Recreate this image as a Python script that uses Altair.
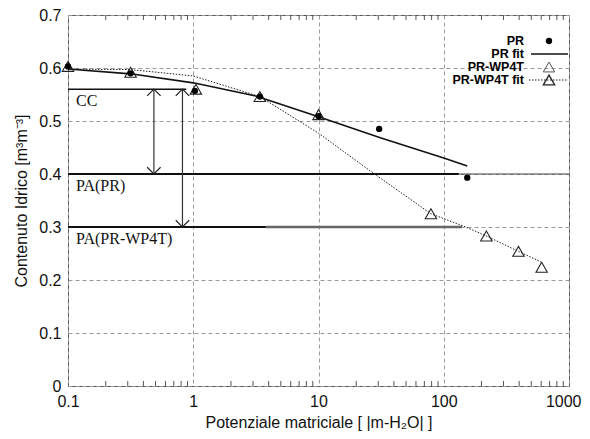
import altair as alt
import pandas as pd

# ---------------- data ----------------
pr_x = [0.1, 0.316, 1.03, 3.4, 10, 30.5, 154]
pr_y = [0.603, 0.590, 0.557, 0.546, 0.509, 0.485, 0.393]

wp_x = [0.1, 0.316, 1.05, 3.4, 10, 79, 219, 395, 605]
wp_y = [0.603, 0.592, 0.560, 0.546, 0.512, 0.325, 0.283, 0.254, 0.224]

prfit_x = [0.1, 0.316, 1, 3.16, 5.9, 10, 31.6, 100, 154]
prfit_y = [0.598, 0.589, 0.572, 0.547, 0.526, 0.508, 0.468, 0.430, 0.415]

wpfit_x = [0.1, 0.316, 1, 3.4, 10, 28, 79, 150, 219, 395, 600]
wpfit_y = [0.598, 0.597, 0.585, 0.546, 0.477, 0.400, 0.325, 0.300, 0.283, 0.254, 0.234]

# reference levels (CC, PA(PR), PA(PR-WP4T)) and their extents
level_names = ["CC", "PA(PR)", "PA(PR-WP4T)"]
level_y = [0.56, 0.40, 0.30]
level_x_end = [0.88, 132, 3.8]
level_x_end2 = [None, 1000, 140]

# arrows: x position, top, bottom
arrow_x = [0.485, 0.82]
arrow_top = [0.56, 0.56]
arrow_bottom = [0.40, 0.30]

x_ticks = [0.1, 1, 10, 100, 1000]
y_ticks = [0, 0.1, 0.2, 0.3, 0.4, 0.5, 0.6, 0.7]
minor_ticks = [k * 10 ** e for e in (-1, 0, 1, 2) for k in range(2, 10)]

legend_labels = ["PR", "PR fit", "PR-WP4T", "PR-WP4T fit"]

W, H = 501, 371

# ---------------- scales / axes ----------------
X_SCALE = alt.Scale(type="log", domain=[0.1, 1000], nice=False)
Y_SCALE = alt.Scale(domain=[0, 0.7], nice=False, zero=False)

axis_x = alt.Axis(values=x_ticks, format="~g", title="Potenziale matriciale [ |m-H\u2082O| ]",
                  grid=True, gridDash=[4, 3], gridColor="#9a9a9a", gridWidth=1,
                  ticks=False, domain=False, labelPadding=7, titlePadding=5,
                  labelFlush=False,
                  labelAlign={"condition": {"test": "datum.value >= 1000", "value": "right"},
                              "value": "center"},
                  labelOffset={"condition": {"test": "datum.value >= 1000", "value": 12},
                               "value": 0})
axis_y = alt.Axis(values=y_ticks, format="~g", title="Contenuto Idrico [m\u00b3m\u207b\u00b3]",
                  grid=True, gridDash=[4, 3], gridColor="#9a9a9a", gridWidth=1,
                  ticks=False, domain=False, labelPadding=7, titlePadding=9)


def X(f="x"):
    return alt.X(f"{f}:Q", scale=X_SCALE, axis=axis_x)


def Y(f="y"):
    return alt.Y(f"{f}:Q", scale=Y_SCALE, axis=axis_y)


layers = []

# minor ticks on log axis (bottom and top, pointing inside)
mt = pd.DataFrame({"x": minor_ticks})
layers.append(alt.Chart(mt).mark_rule(color="#555", strokeWidth=1).encode(
    x=X(), y=alt.value(H), y2=alt.value(H - 5)))
layers.append(alt.Chart(mt).mark_rule(color="#555", strokeWidth=1).encode(
    x=X(), y=alt.value(0), y2=alt.value(5)))

# horizontal reference lines
main_lines = pd.DataFrame({"x": [0.1] * 3, "x2": level_x_end, "y": level_y})
layers.append(alt.Chart(main_lines.iloc[[0]]).mark_rule(color="#111", strokeWidth=1.5).encode(
    x=X(), x2="x2:Q", y=Y()))
layers.append(alt.Chart(main_lines.iloc[[1, 2]]).mark_rule(color="#111", strokeWidth=2).encode(
    x=X(), x2="x2:Q", y=Y()))
ext = pd.DataFrame({"x": [level_x_end[1], level_x_end[2]], "x2": [level_x_end2[1], level_x_end2[2]],
                    "y": [level_y[1], level_y[2]]})
layers.append(alt.Chart(ext.iloc[[0]]).mark_rule(color="#444", strokeWidth=1).encode(
    x=X(), x2="x2:Q", y=Y()))
layers.append(alt.Chart(ext.iloc[[1]]).mark_rule(color="#666", strokeWidth=2.5).encode(
    x=X(), x2="x2:Q", y=Y()))

# arrows
arr = pd.DataFrame({"x": arrow_x, "y": arrow_top, "y2": arrow_bottom})
layers.append(alt.Chart(arr).mark_rule(color="#333", strokeWidth=1.2).encode(
    x=X(), y=Y(), y2="y2:Q"))
heads_up = pd.DataFrame({"x": arrow_x, "y": arrow_top})
heads_dn = pd.DataFrame({"x": arrow_x, "y": arrow_bottom})
layers.append(alt.Chart(heads_up).mark_point(shape="M-1,1L0,0L1,1", filled=False, size=180,
                                             color="#222", strokeWidth=1.2, opacity=1).encode(x=X(), y=Y()))
layers.append(alt.Chart(heads_dn).mark_point(shape="M-1,-1L0,0L1,-1", filled=False, size=180,
                                             color="#222", strokeWidth=1.2, opacity=1).encode(x=X(), y=Y()))

# annotations
ann = pd.DataFrame({"x": [0.1] * 3, "y": level_y, "t": level_names})
layers.append(alt.Chart(ann).mark_text(align="left", baseline="top", dx=8, dy=4,
                                       font="Liberation Serif", fontSize=16, color="#111").encode(
    x=X(), y=Y(), text="t:N"))

# fit lines
layers.append(alt.Chart(pd.DataFrame({"x": prfit_x, "y": prfit_y})).mark_line(
    color="#111", strokeWidth=1.6).encode(x=X(), y=Y()))
layers.append(alt.Chart(pd.DataFrame({"x": wpfit_x, "y": wpfit_y})).mark_line(
    color="#222", strokeWidth=1, strokeDash=[1.5, 1.5]).encode(x=X(), y=Y()))

# points
layers.append(alt.Chart(pd.DataFrame({"x": wp_x, "y": wp_y})).mark_point(
    shape="triangle-up", filled=False, size=130, color="#222", strokeWidth=1.1, opacity=1).encode(
    x=X(), y=Y()))
layers.append(alt.Chart(pd.DataFrame({"x": pr_x, "y": pr_y})).mark_point(
    shape="circle", filled=True, size=40, color="#000", opacity=1).encode(x=X(), y=Y()))

# legend (top right, inside plot)
one = alt.Data(values=[{}])
leg_y = [26, 39, 52, 65]
lx = W - 45
for lab, yy in zip(legend_labels, leg_y):
    layers.append(alt.Chart(one).mark_text(align="right", baseline="middle", font="Liberation Sans",
                                           fontWeight="bold", fontSize=12.5, color="#000").encode(
        x=alt.value(lx), y=alt.value(yy), text=alt.value(lab)))
layers.append(alt.Chart(one).mark_point(shape="circle", filled=True, size=40, color="#000", opacity=1).encode(
    x=alt.value(lx + 25), y=alt.value(leg_y[0])))
layers.append(alt.Chart(one).mark_rule(color="#111", strokeWidth=1.6).encode(
    x=alt.value(lx + 7), x2=alt.value(W - 1), y=alt.value(leg_y[1])))
layers.append(alt.Chart(one).mark_point(shape="triangle-up", filled=False, size=130, color="#555",
                                        strokeWidth=1, opacity=1).encode(
    x=alt.value(lx + 25), y=alt.value(leg_y[2])))
layers.append(alt.Chart(one).mark_rule(color="#222", strokeWidth=1, strokeDash=[1.5, 1.5]).encode(
    x=alt.value(lx + 5), x2=alt.value(W - 1), y=alt.value(leg_y[3])))
layers.append(alt.Chart(one).mark_point(shape="triangle-up", filled=False, size=130, color="#222",
                                        strokeWidth=1.3, opacity=1).encode(
    x=alt.value(lx + 25), y=alt.value(leg_y[3])))

chart = alt.layer(*layers).properties(
    width=W, height=H,
    autosize=alt.AutoSizeParams(type="none"),
    padding={"left": 60, "top": 7, "right": 13, "bottom": 45},
    background="white",
).configure_view(
    stroke="#555", strokeWidth=1
).configure_axis(
    labelFont="Liberation Sans", labelFontSize=16, labelColor="#111",
    titleFont="Liberation Sans", titleFontSize=16, titleFontWeight="normal", titleColor="#111",
)

chart.save("out.html", embed_options={"renderer": "svg", "actions": False})
